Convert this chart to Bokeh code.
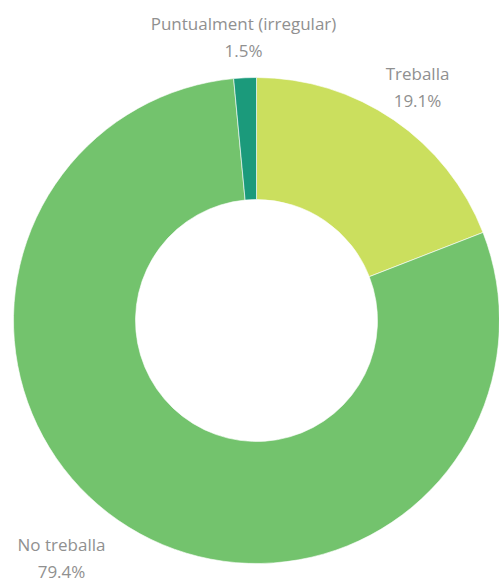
import math
from bokeh.plotting import figure
from bokeh.models import Range1d, ColumnDataSource
from bokeh.core.properties import value
from bokeh.embed import file_html
from bokeh.resources import INLINE

# Data
categories = ["Treballa", "No treballa", "Puntualment (irregular)"]
shares = [19.1, 79.4, 1.5]
pct_labels = ["19.1%", "79.4%", "1.5%"]
colors = ["#cbdf5e", "#73c36d", "#1b9a7b"]

# Layout (label anchor positions relative to donut centre, in px)
label_pos = [(161, 247), (-195, -224), (-13, 297)]
line_gap = 27

W, H = 499, 586
cx_page, cy_page = 256, 320
fx = cx_page
fy = cy_page

p = figure(width=W, height=H, output_backend="svg", toolbar_location=None,
           x_range=Range1d(-fx, W - fx), y_range=Range1d(-(H - fy), fy),
           min_border=0, border_fill_color="white", background_fill_color="white")
p.axis.visible = False
p.grid.visible = False
p.outline_line_color = None

total = sum(shares)
starts, ends = [], []
cum = 0.0
for s in shares:
    starts.append(math.pi / 2 - 2 * math.pi * cum / total)
    cum += s
    ends.append(math.pi / 2 - 2 * math.pi * cum / total)

src = ColumnDataSource(dict(start=starts, end=ends, color=colors, cat=categories))
p.annular_wedge(x=0, y=0, inner_radius=121, outer_radius=243,
                start_angle="start", end_angle="end", direction="clock",
                fill_color="color", line_color="white", line_width=0.6,
                source=src)

lx = [pos[0] for pos in label_pos]
ly = [pos[1] for pos in label_pos]
p.text(x=lx, y=ly, text=categories, text_align="center", text_baseline="middle",
       text_font=value("Open Sans"), text_font_size="17px", text_color="#909090")
p.text(x=lx, y=[y - line_gap for y in ly], text=pct_labels, text_align="center",
       text_baseline="middle", text_font=value("Open Sans"), text_font_size="17px",
       text_color="#909090")

open("out.html", "w").write(file_html(p, INLINE))
